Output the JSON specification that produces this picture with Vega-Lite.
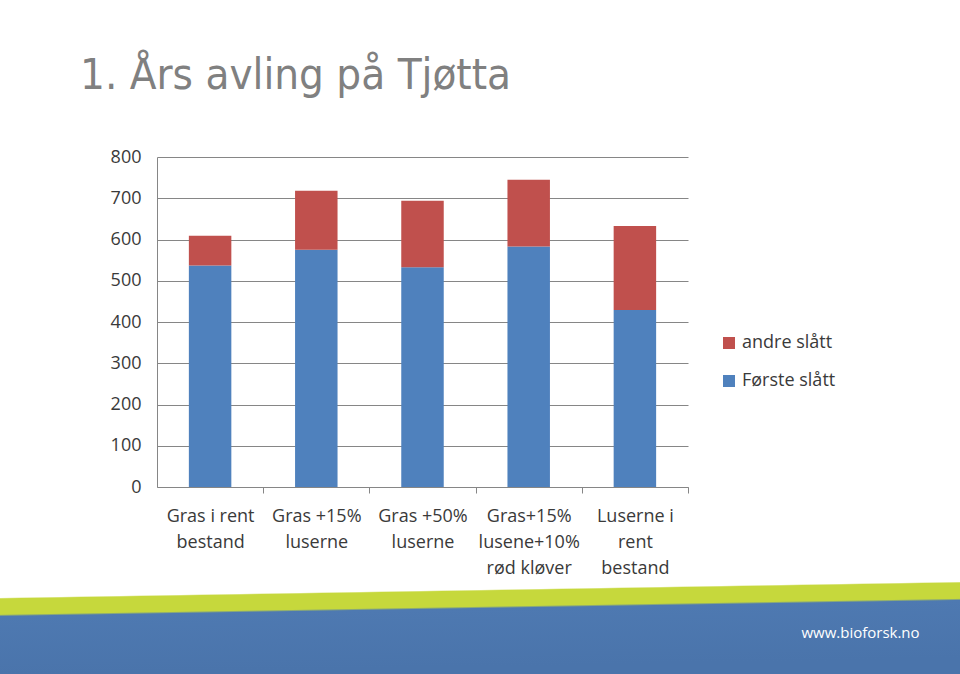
{
  "$schema": "https://vega.github.io/schema/vega-lite/v6.json",
  "width": 960,
  "height": 674,
  "autosize": {"type": "none"},
  "padding": 0,
  "background": "white",
  "config": {
    "view": {
      "stroke": null,
      "fill": {
        "gradient": "linear",
        "x1": 0, "y1": 0, "x2": 0.0237, "y2": 1,
        "stops": [
          {"offset": 0, "color": "#ffffff"},
          {"offset": 0.886, "color": "#ffffff"},
          {"offset": 0.888, "color": "#c6d83c"},
          {"offset": 0.911, "color": "#c6d83c"},
          {"offset": 0.914, "color": "#4e79b1"},
          {"offset": 1, "color": "#4a74ab"}
        ]
      }
    }
  },
  "title": {
    "text": "1. Års avling på Tjøtta",
    "anchor": "start",
    "frame": "group",
    "offset": 0,
    "dx": 80,
    "dy": 132,
    "baseline": "alphabetic",
    "font": "DejaVu Sans Condensed",
    "fontSize": 43.5,
    "fontWeight": "normal",
    "color": "#808080"
  },
  "data": {
    "values": [
      {"behandling": "Gras i rent\nbestand", "slått": "Første slått", "avling": 537},
      {"behandling": "Gras i rent\nbestand", "slått": "andre slått", "avling": 72},
      {"behandling": "Gras +15%\nluserne", "slått": "Første slått", "avling": 575},
      {"behandling": "Gras +15%\nluserne", "slått": "andre slått", "avling": 143},
      {"behandling": "Gras +50%\nluserne", "slått": "Første slått", "avling": 533},
      {"behandling": "Gras +50%\nluserne", "slått": "andre slått", "avling": 161},
      {"behandling": "Gras+15%\nlusene+10%\nrød kløver", "slått": "Første slått", "avling": 583},
      {"behandling": "Gras+15%\nlusene+10%\nrød kløver", "slått": "andre slått", "avling": 162},
      {"behandling": "Luserne i\nrent\nbestand", "slått": "Første slått", "avling": 429},
      {"behandling": "Luserne i\nrent\nbestand", "slått": "andre slått", "avling": 204}
    ]
  },
  "mark": {"type": "bar"},
  "encoding": {
    "x": {
      "field": "behandling",
      "type": "nominal",
      "sort": null,
      "scale": {"range": [157, 688], "paddingInner": 0.6, "paddingOuter": 0.3},
      "axis": {
        "orient": "bottom",
        "offset": -187,
        "grid": false,
        "tickOffset": 53.1,
        "labelOffset": -53.1,
        "tickSize": 6,
        "tickColor": "#868686",
        "domainColor": "#868686",
        "labelExpr": "split(datum.label, '\\n')",
        "labelAngle": 0,
        "labelFont": "Open Sans",
        "labelFontSize": 18,
        "labelLineHeight": 26,
        "labelPadding": 14,
        "labelColor": "#3a3a3a",
        "title": "www.bioforsk.no",
        "titleX": 860,
        "titleY": 150,
        "titleColor": "#ffffff",
        "titleFont": "Open Sans",
        "titleFontWeight": "normal",
        "titleFontSize": 15,
        "titleBaseline": "alphabetic",
        "titleAlign": "center"
      }
    },
    "y": {
      "field": "avling",
      "type": "quantitative",
      "stack": "zero",
      "scale": {"domain": [0, 800], "range": [487, 157], "nice": false, "zero": true},
      "axis": {
        "orient": "left",
        "offset": -157,
        "values": [0, 100, 200, 300, 400, 500, 600, 700, 800],
        "grid": false,
        "tickSize": -531,
        "tickColor": "#868686",
        "domainColor": "#868686",
        "labelPadding": 547,
        "labelFont": "Open Sans",
        "labelFontSize": 18,
        "labelColor": "#3a3a3a",
        "title": null
      }
    },
    "color": {
      "field": "slått",
      "type": "nominal",
      "scale": {"domain": ["andre slått", "Første slått"], "range": ["#c0504d", "#4f81bd"]},
      "legend": {
        "orient": "none",
        "legendX": 720,
        "legendY": 334,
        "title": null,
        "padding": 0,
        "symbolType": "square",
        "symbolSize": 144,
        "symbolStrokeWidth": 0,
        "labelFont": "Open Sans",
        "labelFontSize": 18,
        "labelColor": "#3a3a3a",
        "labelOffset": 4,
        "rowPadding": 20
      }
    },
    "order": {"field": "slått", "sort": "ascending"}
  }
}
